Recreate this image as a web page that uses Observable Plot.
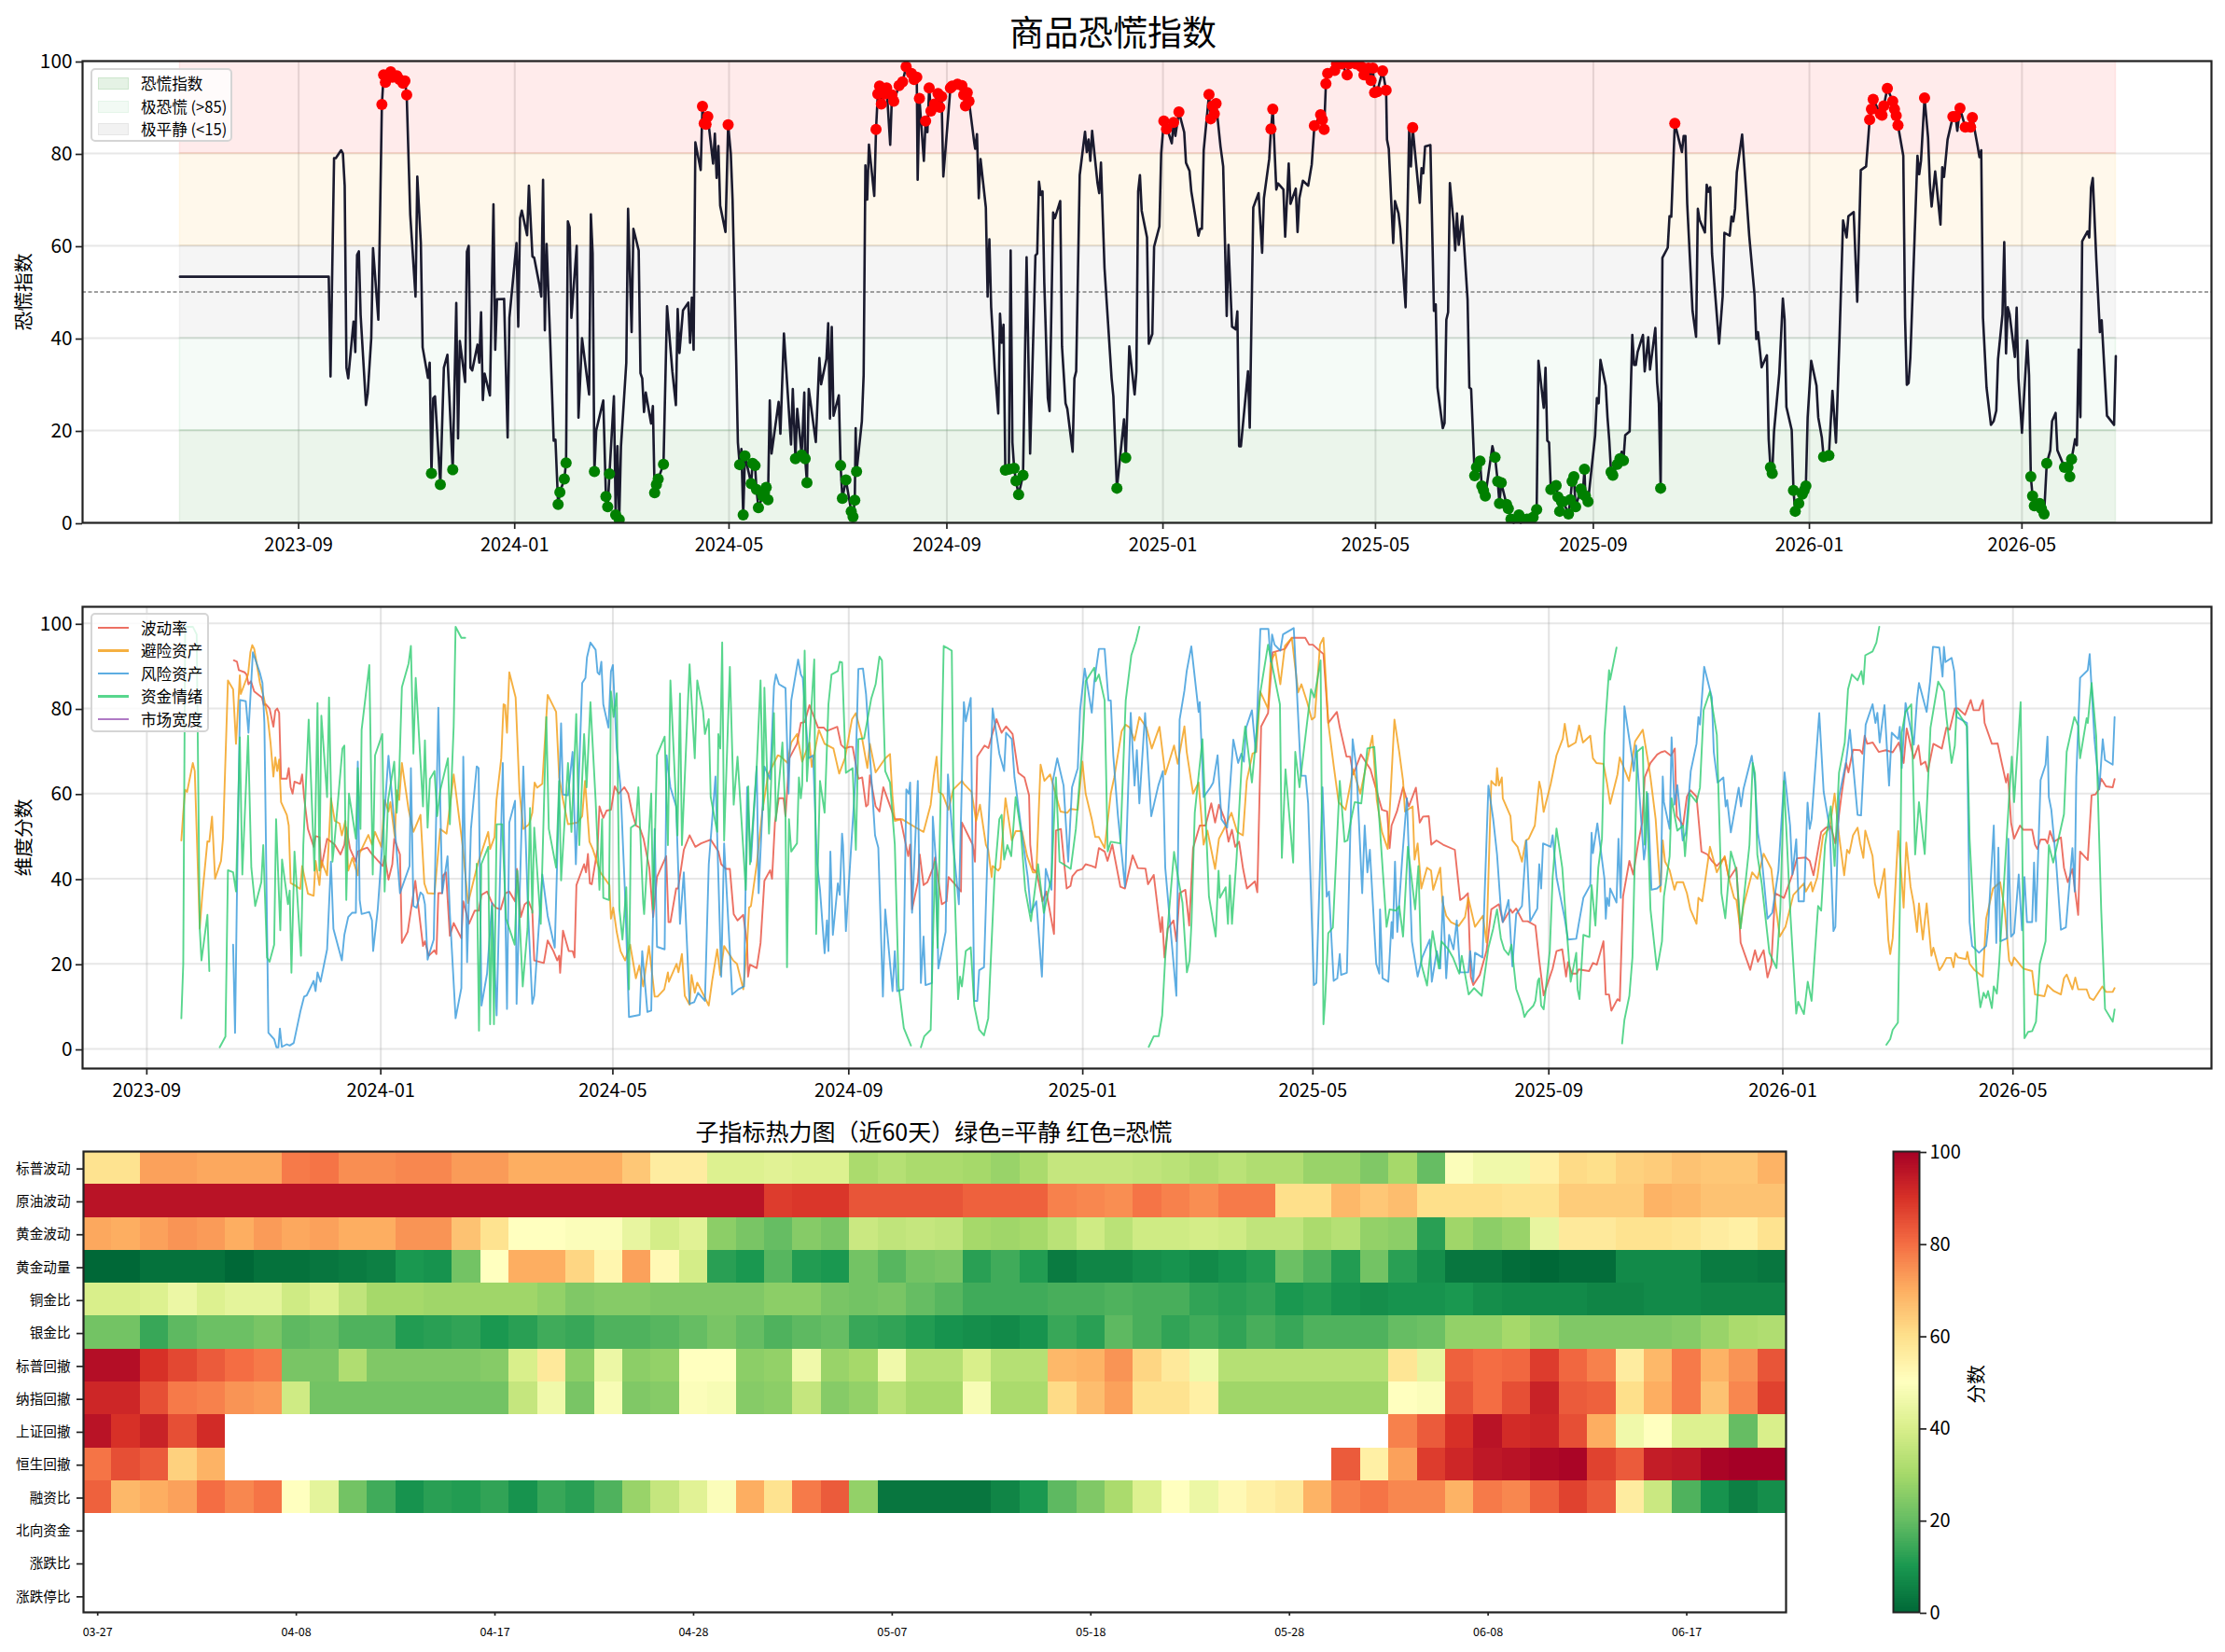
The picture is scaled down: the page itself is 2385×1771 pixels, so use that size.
<!DOCTYPE html>
<html><head><meta charset="utf-8">
<script src="https://cdn.jsdelivr.net/npm/d3@7"></script>
<script src="https://cdn.jsdelivr.net/npm/@observablehq/plot@0.6"></script>
<style>
html,body{margin:0;padding:0;background:#fff}
#page{position:relative;width:2385px;height:1771px;font-family:"Noto Sans CJK SC","Noto Sans",sans-serif;color:#000;overflow:hidden}
#page>div{position:absolute}
#page svg{display:block;background:transparent}
.ttl{white-space:nowrap;transform:translate(-50%,-50%);line-height:1}
.legend{background:rgba(255,255,255,.8);border:2px solid #d5d5d5;border-radius:5px;box-sizing:border-box;font-size:16.6px;line-height:1}
.legend .row{position:absolute;left:52px;transform:translateY(-50%);white-space:nowrap}
.legend .key{position:absolute;left:6px;width:33px;box-sizing:border-box}
.cbl{white-space:nowrap;font-size:20.8px;line-height:1;transform:translate(-50%,-50%) rotate(-90deg)}
</style></head><body><div id="page"></div>
<script>
// days are counted from originDate
const originDate = "2023-06-26";
const panicIndex = [[0,53.3],[84,53.3],[85,31.7],[87,79],[88,79],[91,80.7],[92,80],[93,73],[94,33.6],[95,31.3],[98,43.6],[99,37],[100,58],[101,58.8],[102,45],[105,25.5],[106,28],[108,40],[109,59.5],[112,44],[114,90.6],[115,97],[116,95.4],[119,97.7],[120,96.5],[122.5,96.8],[124,96],[126,95.2],[127,95.7],[128,92.7],[130,66.8],[133,49],[134,75],[136,60.6],[137,38],[140,31.4],[141,34.7],[142,10.7],[143,27],[144,27.4],[147,8.3],[149,33.6],[151,36.4],[154,11.5],[156,47.6],[157,18.3],[158,39.4],[161,30.5],[162,58.7],[163,60],[164,33.6],[165,33],[168,38.6],[169,34.7],[170,45.6],[171,26.6],[172,32.3],[175,27.6],[177,69],[178,37.5],[179,48.4],[183,48.5],[185,18.5],[186,44.4],[190,60.6],[191,42.5],[192,66],[193,67.6],[196,62.3],[197,73],[199,57.7],[200,57.4],[203,51.4],[204,49],[205,74.3],[206,41.7],[207,60.4],[209,39.8],[211,17.8],[212,18],[213.5,4],[214.5,6.6],[217,9.5],[218,13],[219,65.3],[220,64],[221,44.4],[224,60],[225,22.8],[227,40],[231,27.8],[232,66.8],[233,58.3],[234,11.1],[235,20],[239,26.5],[240.5,5.7],[241.5,3.5],[242.5,10.6],[245,27.4],[246,1.7],[247,16.6],[248,0.7],[249,16.6],[252,34.7],[253,68],[255,41.3],[256,63.7],[259,59],[260,32.4],[261,31.3],[262,24],[263,28.2],[266,21.5],[267,25.3],[268,6.5],[269,8.3],[270,9.5],[273,12.7],[275,46.9],[278,32.8],[280,25.5],[281,46.3],[282,36.8],[284,46],[287,47.7],[288,39],[289,48.8],[290,37.5],[291,82.4],[294,76.4],[295,90.2],[296,86.5],[297,86.3],[298,88],[301,77.8],[302,84.3],[303,74.7],[304,81.6],[305,68.7],[308,63],[309.5,86.2],[311,80],[312,70],[314,36],[315,17.4],[316,12.6],[317,16],[318,1.7],[319,14.5],[322.5,8.5],[323.3,12.9],[324.7,12.4],[325.5,7.2],[326.6,3.3],[329,5.8],[330,6.5],[331,7.7],[332,5],[333,26.5],[334,15],[338,26.2],[339,19.3],[341,41],[345,17],[346,29],[347.5,13.9],[348.5,24.7],[351,14.7],[352.5,28.2],[353,13.9],[354,8.7],[355,29],[359,17.5],[361,35.7],[362,30],[365,35.5],[366,43.2],[367,22.6],[368,42.4],[369,23.2],[372,27.6],[373,12.4],[374,5.3],[376,9.3],[379,2.5],[380,1.3],[381,4.9],[381.5,20.5],[382,11.1],[385,22],[386,32],[387,77.4],[388,70],[389,81.9],[392,70.8],[393,85.2],[394,92.9],[395,94.6],[396,90.7],[398,92.9],[399,94.2],[401,81.9],[402,92.7],[403,91.3],[406,94.7],[408,95.5],[410,98.8],[413,97.3],[414.5,96],[416,96.5],[416.5,74.3],[417.5,91.9],[420,78.4],[421,87],[422,84.6],[423,94.2],[424,89.2],[426,90.7],[428,93],[429,90],[430,92.3],[431,75],[435,94.2],[436,94.6],[439,95],[441.5,94.7],[442.5,92.7],[443.5,90.3],[444.5,93.2],[445.5,91.3],[448.5,82.2],[449,81],[450,84.2],[451,70.3],[452,78.8],[455,68.3],[456,49],[457,61.4],[458,46.7],[460,33.6],[462,23.7],[463,45.3],[464,39],[465,42.9],[466,11.4],[468,11.6],[469,59],[470,17.4],[471,11.8],[472,9.1],[473.5,6.1],[476,10.3],[478,57.5],[480,15],[483,57.9],[484,58.3],[485,73.9],[486,71],[487,71.8],[488,52],[490,27],[491,24.2],[493,67.2],[494,66],[497,69.7],[498,38.2],[500,25.9],[501,24.7],[504,15.4],[505,31.3],[506,32.8],[508,75.3],[511,84.7],[512,80.3],[513,83],[514,78.4],[515,84.9],[518,73.7],[519,71.4],[520,78],[522,55.2],[526,31.3],[527,27.4],[529,7.5],[533,22.4],[534,14.1],[536,38.2],[539,27.8],[540,32.8],[541,71.8],[542,75.3],[543,67.6],[546,61.8],[547,38.8],[549,40.9],[550,59.8],[553,64.2],[554,80],[555.5,87],[557,85.3],[558,84.6],[560,82.2],[561,86.7],[562,83.8],[564,89],[567,84.6],[568,78],[570,76.2],[571,71.8],[575,62.2],[576,63.7],[577,63.7],[578,80.7],[581,92.8],[582,87.5],[583,90.3],[584,88.6],[585,90.8],[587.5,81.5],[589,77.2],[591,44.8],[592,60.2],[594,42.5],[596,41.9],[597,45.8],[598,16.6],[599,16.6],[603,32.8],[604,20.6],[606,68.3],[609,71.4],[611,58.5],[612,70.3],[615,78.8],[616,85.3],[617,89.6],[619,72.2],[620,73.5],[623,72.2],[624,62],[626,77.8],[627,69.1],[630,72.4],[631,63],[632,70.3],[634,74.1],[637,73],[639,77.6],[640.5,86],[644,88.4],[645,87.3],[646,85.2],[647,95.1],[648,97.3],[652,98],[653,99.4],[656,99.4],[659,97],[660,99.4],[664,99.4],[667,98.8],[668.5,97],[671,98.5],[672.5,95.8],[673.5,98.5],[674.5,93.2],[676,93.4],[679,97.9],[681,93.7],[681.5,83],[682.5,81],[685,60.6],[686,69.7],[688,67],[689,63.7],[692,46.7],[694,84.9],[695,77.2],[696,85.6],[700,69.3],[701,76.8],[702,75.7],[703,81.5],[706,81.8],[708,45.9],[709,47.3],[710,29.3],[713,20.5],[714,21.6],[715,44],[716,45.6],[717,73.6],[719,65.3],[720,59],[721,67],[722,60.2],[724,66.4],[727,48.3],[728,29.3],[729,29],[731,10.2],[732,12],[734,13.4],[735,8],[736,7],[737,5.8],[741,16.6],[742.5,14.2],[744,9],[745,4.2],[746,8.7],[749,4],[750,3.1],[751.5,0.8],[753,0],[756,1.7],[757,0],[760.5,0.8],[764,1.2],[766,2.9],[767,35.1],[770,24.9],[771,33.6],[772,17.8],[773,17.4],[774,7.2],[777,8.1],[778,5.6],[779,2.5],[780,4.6],[781,4.6],[784,1.9],[785,5],[786,9],[787,10],[788,3.5],[791,7.3],[792,6.2],[793,11.6],[793.5,5.8],[795,4.6],[799,18.9],[800,27],[801,25.9],[802,35.3],[805,29.7],[806,22.8],[807,17.8],[808,11],[809,10.3],[811.5,12.7],[813,13.9],[814,15.4],[815,13.5],[816,19],[818.5,19.8],[820,40.7],[821,34.2],[822,34.2],[823,37],[826,40.7],[827,32.8],[829,40.2],[830,33.2],[833,42.2],[834,30.5],[835,25.9],[836,7.5],[837,57.4],[840,59.6],[841,66.4],[842,66.3],[844,86.5],[846,83.4],[848,80.3],[849,83.8],[850,83.8],[851,69.1],[854,45.9],[856,40.3],[857,68],[858,65.6],[861,62.9],[862,73.2],[863,71.7],[864,72.7],[865,58.3],[868,43.6],[869,38.8],[871,49],[872,62.8],[875,62.2],[876,66.3],[877,65.3],[878,68],[879,75.9],[882,84.1],[886,62.2],[889,49.4],[890,39.8],[891,41.3],[893,33.7],[896,36.3],[897,18.1],[898,12],[899,10.7],[900,19.7],[903,32.4],[905,48.6],[906,44],[907,25.1],[910,20.1],[911,7],[912,2.5],[914,4.2],[916,6.2],[917,7],[918,8],[919,22.8],[921,35.1],[924,29.7],[925,22.8],[927,18.5],[928,14.3],[931,14.6],[933,28.6],[935,17.4],[937,40.2],[939,65.5],[941,61.8],[942,66.4],[945,67.3],[947,47.9],[949,76.4],[952,77.2],[954,87.3],[955,89.6],[956,91.7],[960,88.6],[961,88.3],[962,90.3],[964,94.1],[967,91.3],[968,89.6],[969,88.2],[970,86.1],[973,79.5],[974,44.4],[975,29.9],[976,30.3],[977,35.9],[981,79.5],[982,75.5],[983,78.4],[985,92],[987,83.4],[988,73.4],[989,68.5],[991,76.1],[994,64.6],[995,77],[996,74.9],[998,83],[1001,88],[1002.5,88],[1003.5,84.9],[1005,89.8],[1008,85.7],[1011,85.7],[1012,87.8],[1015,81.5],[1016,79.2],[1017,80.7],[1018,44.4],[1020,29.3],[1022.5,21.2],[1024,22],[1025.5,24.3],[1026.5,35.5],[1029,45.2],[1030,60.8],[1031,36.7],[1032,46.7],[1033,45.2],[1036,35.9],[1037,46.6],[1038,31.3],[1040,19.5],[1043,39.5],[1044,32],[1045,10],[1046,5.8],[1047,3.7],[1050,4.2],[1051,3.1],[1052.5,1.9],[1054,12.9],[1056,15.7],[1057,22],[1059,23.8],[1060,15.7],[1064,12],[1066,12],[1067,10],[1068,13.8],[1070,18.1],[1071,16.8],[1072,37.5],[1073,22.9],[1074,61],[1077,63.1],[1078,61.8],[1079,72.6],[1080,74.7],[1082,56.8],[1084,41.3],[1085,43.9],[1088,23.2],[1092,21.2],[1093,36.1]];
const volatility = [[112.4,91.3],[114,91],[115,89],[118,88.5],[119,88],[120,85.7],[121.3,86.4],[123,84],[127,82.6],[128,80.8],[129,81],[131,80],[133,75.7],[134,79.5],[135,80],[136,79],[137,63.5],[140,63.5],[141,66],[142,61.5],[143,60],[144,62.8],[147,62.3],[148,64.5],[149,59.2],[151,51.7],[154,47.5],[155,50],[157,49.8],[158,42.6],[161,49.4],[163,48.7],[165,48],[168,45.7],[170,48],[171,52],[173,47],[176,44],[177,46.4],[180,47],[182,47.3],[184,46],[190,43],[191,45.3],[193,39.8],[195,43.4],[196,49.4],[199,45.7],[200,24.9],[203,27.5],[207,39.5],[211,24.2],[212,25.3],[214,21.9],[217,23.2],[218,22.3],[219,36.6],[221,36.6],[221.5,40.8],[223,41.5],[225,26.6],[227,29.6],[231,26],[232,34.7],[235,29.4],[238,32.5],[240,32.5],[241.5,36.2],[244.4,37],[247,34.3],[249,33.2],[251.5,32.8],[254,36.6],[256,37],[259,34.7],[260,42.3],[262,31],[264,34],[266,34.7],[268,32.5],[269,20.8],[274,20.2],[276,25.5],[279,23],[281,20.8],[282,21.9],[282.5,17.9],[284,27.8],[287,23],[289,23],[290,21.5],[291,38.5],[295,43.4],[296,41.5],[297,45.8],[298,38.9],[299,38.7],[302,47],[303,57],[305,54.3],[306.7,56],[309,56.2],[311,61.7],[313,60],[316,61.5],[318,60],[319.9,55.8],[322,52.5],[324,52],[326,49.4],[329,42.6],[331,31],[333,40.4],[337.8,45.3],[339,29.8],[340,29.8],[343,37.7],[344,37.7],[347,46.8],[350,50.2],[353,47.5],[356,48.3],[361,49.2],[365,46.4],[366.5,43.4],[369,42.3],[371,42.3],[373,31.7],[375,30.2],[378,31.5],[380,24.5],[380.5,17],[381.5,19.8],[385,19],[387,24.9],[389,39.5],[392,42],[393,40],[394.5,53.2],[396.5,58.9],[399,58.9],[400,54.7],[402,68.3],[406,71.7],[408,76.6],[410,76.8],[412.5,80.8],[417,75.5],[420,75.5],[421.6,74.7],[427,75.7],[429,71.5],[431,70.6],[433.5,71],[435,71],[438,63.5],[440,63.8],[442,57],[443,57.4],[444,64.3],[447,57],[449,55.8],[451,61.5],[457,54],[460,54],[464,45.3],[465,48],[466,32.8],[469,39.2],[470,45.7],[472,38.5],[474,39.2],[477,42.6],[478,45],[481.5,34],[484,34.7],[485,40.4],[488,38.9],[491.5,37],[492,53.2],[497.6,48],[498.8,44],[500,68.7],[503.8,71.3],[505.8,70.7],[510,77.5],[512.7,74.3],[515,75.8],[518.4,74],[521.4,64.9],[524.6,63.8],[527,59.6],[527.6,48],[529,42.3],[531,41.5],[534,34.7],[536,37],[540,27],[541,51.3],[543.6,51.7],[546.6,37.7],[548.6,38.3],[549.6,40.6],[552,41.9],[554.8,42.3],[556.5,43.4],[559.7,43],[561.7,42.6],[563.4,47.2],[566.4,46.4],[567.9,44.2],[570.4,48],[574.6,38.1],[577,37.7],[581,45.5],[583.7,42.5],[587.7,42.4],[589,38.7],[592,40.9],[595.6,27.5],[596.4,31],[597.6,21.5],[599.3,28.3],[602.3,30.2],[603.8,25.3],[605.5,36.6],[608.5,37.4],[610.5,29],[612.5,47.2],[616,52.5],[619,52.5],[622,57.7],[624,53.2],[626,57.4],[629,54],[631,48.7],[632.8,51.5],[634.5,47.5],[636.5,48.7],[638.6,42.3],[640.6,37.7],[644.8,39.4],[646,36.8],[648,75.8],[651.6,78.9],[654,93.2],[660.4,94],[664,96.6],[671,96.6],[673,95],[675,95],[677.4,94],[680.5,92.8],[683,76.6],[687.5,79.2],[689,75.6],[692.5,68.7],[694.4,68.7],[696,64.5],[700,69.2],[705,65.7],[711,56.2],[713.7,55.8],[715,47.2],[716,52.5],[718.8,55.8],[722,61.5],[725,57],[728.7,61.4],[730.7,53.2],[732.4,54.6],[735.4,54.7],[736.7,48],[739.4,49],[742.9,48],[749,46.8],[750.6,40],[751.8,35],[753.5,35.5],[755.8,36.6],[757.3,17],[758.6,15],[762,17.4],[765.5,23],[768,32.8],[769.3,33.2],[772,34],[774,29.8],[778,32.8],[779,32],[781,33],[784.4,30],[787,30],[791,29],[793,20.8],[795.3,12.6],[800,18.9],[802,23],[805,23.4],[807,17],[808,20.4],[810,17.7],[812.6,17.7],[813.6,18.7],[819,18.3],[821,20.2],[823,19.8],[826.5,25.3],[827.7,12.8],[829.4,12.8],[830.6,9],[833.8,11.7],[835,11.3],[836.7,35.8],[840,44.2],[842,41],[844.7,48.7],[846.7,53.2],[848,63.8],[851,67.2],[854.5,69.2],[856.4,69.7],[858.6,70],[861.7,68.9],[863.7,70.6],[864.7,54.7],[868,52.5],[870,59.3],[871.8,60.8],[875,59.3],[877.6,46.4],[880.7,45.7],[883,44.2],[885.6,43],[889.7,45],[892,40],[895.8,42.6],[898,25],[903,18.6],[905.5,23.2],[907,20.5],[910,23.2],[912,16.8],[914,19.8],[916,36.6],[920.6,35.5],[925,41],[927.4,44.8],[932,45],[934,44.2],[936,40.8],[940,51],[942.5,52],[945,52.3],[947.4,48.3],[950.6,59.7],[953,67.2],[954.2,65],[956.6,70.3],[960.3,70.2],[961.5,69.4],[962.7,73.6],[964,71.7],[966.9,72],[970,69.8],[973.7,70.2],[977.3,69.7],[980.5,72],[983,67.2],[984.6,75.3],[988.3,68.3],[990.7,71.3],[992,66.8],[994.3,67.5],[995.6,65.2],[998.5,71.7],[1002.9,70.6],[1005.3,75.5],[1007,75],[1009.7,80],[1011.4,80],[1015,78.5],[1018,82],[1019.4,79.6],[1022.3,79.6],[1024.3,82],[1025.2,76.6],[1029,71.7],[1032,71.8],[1034,67.5],[1036.4,62.6],[1037.4,64.6],[1039,53.2],[1040.6,49.4],[1043.7,52.5],[1045.4,51.5],[1050,51.5],[1051.5,48],[1052.7,47],[1054.4,49.2],[1056.9,49.2],[1058,48.3],[1059.3,51.2],[1061.3,48.7],[1065,49.7],[1066.6,42.6],[1068.6,39.2],[1071,42.3],[1074,31.5],[1075,46.4],[1079,44.4],[1081,59.6],[1083,59.8],[1084.6,60.9],[1086,63.5],[1088.5,61.7],[1092,61.5],[1093,63.4]];
const safeHaven = [[85,49],[86,55.5],[87,60.9],[88,60.4],[91,67.2],[92,65.3],[94.6,28.3],[96,36.6],[98.6,48.8],[99.6,48.7],[101,54.6],[102.6,40],[105.7,44.2],[106.7,49.4],[109.3,86.6],[112,84.5],[113.5,71.7],[115.5,87.8],[116,83.4],[119.8,88],[121,93.2],[122,94.9],[123,94],[126,86],[128,82.6],[130,78],[131.5,72],[133,64],[134,68.5],[135,65.3],[136,68],[137,58],[140,55],[141,52.5],[142,39],[144,38.5],[147,37.6],[148,43],[151,36.5],[154,36],[155,44.2],[157,38.5],[158,44.2],[161,40.8],[163,58.9],[165,53.6],[167.5,53],[168.7,50.2],[170.5,53.6],[172,41.9],[174.2,44.9],[177,40.8],[178,46],[182.5,50.3],[184.4,48],[186,51],[189.3,47.5],[191,58.5],[193,55.8],[194,58],[196.3,49.8],[197.3,60.8],[198.6,58.5],[200,67.2],[203.5,56.2],[206,51],[209.7,55],[211.7,38.9],[213.4,36.6],[217,36.5],[220,51.7],[223.3,50.6],[227,64.5],[231.6,48],[234.5,34.3],[239.5,43.4],[245,51],[246,47],[248.3,49.8],[249.3,58.5],[251.8,68.3],[253,81],[253.8,80.8],[254.8,74.3],[256,88.5],[259.3,82.6],[261.3,60.6],[263.3,51.7],[266.3,52.8],[268,55.5],[269.2,62.6],[270.5,61.4],[273.2,62.3],[276,83.2],[280.4,79.2],[282,63.8],[284,58.5],[286.6,52.8],[291.6,53.2],[294,54.7],[295.5,63],[297.8,48.7],[299.5,47],[301,44.9],[303.5,41.5],[308.2,38.5],[309,30.6],[310.2,33.2],[312,27.5],[314,23],[316.4,20.8],[319,24.5],[322,16.6],[323.8,19.6],[325.8,14.7],[328.8,24.2],[331.8,12.3],[333.3,12.3],[336.8,14],[338.7,18],[339.2,15.8],[343.2,20],[344.2,18],[346,22.3],[347.5,12.5],[350,10.4],[351,17.4],[352.7,13.2],[354,15.6],[357.5,12.5],[360,10.2],[361.7,15.8],[364.4,23.4],[366,17.4],[368,24.2],[372.7,20.8],[374.7,20],[378,14],[380,24.5],[381,33.2],[382,33.6],[385,43.4],[388,56.2],[391,64.5],[396,69],[397.6,68.7],[401,67.2],[403,72],[406,74],[408.7,67.5],[412.5,72],[413.7,66.3],[417.4,75],[420.4,71.7],[425,70.6],[428,64.7],[431,68.3],[434.7,77.5],[436.7,78.9],[439.7,73.6],[442.7,66],[444,71.7],[447,65],[452,68.3],[454.5,69.3],[455.8,59.2],[457,53.6],[460.7,54],[468,52],[472,51],[475.7,57.4],[477.3,64],[478.8,68.7],[480,60.4],[482,59.8],[485,56.2],[487.4,60.9],[492,63],[493,62.3],[497,60.4],[499.4,53.6],[501.4,57.4],[504.5,48],[505.7,46.8],[507.5,40.4],[508,43],[510.9,41.9],[512,42.6],[514.7,58.9],[518,49],[520.1,51.2],[523.3,51.2],[526,45.3],[529,41.5],[530.8,41.5],[533,66.8],[535,63],[538,64.5],[543.4,55.8],[546.9,55.5],[548.6,56.4],[552.4,56.2],[554.8,67.5],[556.5,60],[559.7,54],[561.5,49.8],[563.4,49.8],[566.4,47.2],[569.6,60],[571.4,63.8],[575.3,74.7],[577.3,76.2],[579.5,75.5],[582,72.5],[584.5,78],[588.2,75.5],[591,70.6],[595,75.7],[598,64.5],[602.6,71.3],[604.5,67],[608,75.8],[609.2,69.8],[612.5,60],[615.4,62.6],[618,48],[620,51.3],[624,42.3],[626,49.4],[629,52],[632.5,55.5],[635.5,51],[638.5,50.2],[640.5,63],[643.5,69.4],[645.5,69.8],[647.5,84],[651.6,80],[653,91],[655.5,93.2],[658,85.7],[660.4,94.7],[664,96.6],[667.3,83.8],[669,85.7],[672,81.5],[674.4,77.4],[676,78],[678.7,95],[680.5,96.6],[683,76.6],[686,66],[688.4,58],[692,56.2],[696,65.7],[699.7,60],[706,73.6],[708.3,58.5],[711,51],[714,47],[717.5,77.4],[720,69.8],[722,63],[723,55.8],[727,57],[728,44.5],[729.6,48.3],[731.5,37.7],[734.5,42.6],[736.6,41.9],[737.7,37.4],[741.4,42.6],[742.5,34.7],[744.5,31.3],[747,29.8],[751,28.9],[754.3,31],[756,35.5],[759.5,28.7],[763.6,31.3],[765.5,25],[768,63],[769.3,62.3],[770.5,61.9],[771,66],[772,61.9],[773.5,63.8],[774,58.9],[778,54.7],[779,49],[781.7,47.5],[784,44],[786,49],[787.5,49.4],[790.7,52.5],[793,62.8],[794,60.8],[795.3,55.7],[799,62.3],[802,69],[805.3,72.9],[806.3,76.4],[808.2,71],[812,72],[813.8,76],[815.8,72],[819.6,73.6],[821,68.3],[822.8,67.2],[826.5,67],[828.4,62.3],[830,57.6],[833.8,64.5],[835,68.5],[839.8,63],[843,72.3],[847,75],[850,66.9],[851,63.8],[853.7,54],[856.2,37],[857.4,49],[858.6,44],[861,42],[863.5,37.4],[864.7,39.2],[868,39.2],[870,36.6],[871.8,32.8],[875,29.4],[876,35.5],[878,34.7],[882,47.5],[885.6,41.5],[889.7,45.3],[891.7,40.4],[894.6,35.5],[895.8,35],[897.8,28.3],[899.5,33.6],[904,41.5],[906.8,40],[910,45.9],[914,42.3],[915.3,37],[918.4,26.4],[921.4,28.7],[925.5,36.2],[931,38.9],[932,37],[934.7,39.2],[935.5,37],[938,40.4],[941,50.2],[944.5,52],[947,60],[949.3,50.2],[952,40.8],[953.5,46.8],[954.7,46],[956.6,50.2],[959,52],[960.3,48.3],[962,44.9],[963,51.3],[966.8,45.3],[968,38.9],[970,35.5],[973,42.3],[975,25.7],[976,22.3],[977.3,26],[980.2,51.2],[983,33.2],[984.4,48.5],[986.6,38.1],[988.3,34],[990,27.5],[991,34.2],[993,25.7],[995,34.2],[997.5,21.9],[998.5,23.8],[1001.6,18.5],[1003.3,19.6],[1005.3,21.4],[1007.7,21.4],[1009,19.2],[1010,22.5],[1011.4,21.5],[1015.5,21.1],[1016.2,22.8],[1017.4,20],[1020,18.5],[1024.3,17],[1026,30.6],[1029.6,37.7],[1033.3,39.2],[1035.7,32.8],[1038,20.8],[1039.4,19.6],[1040.6,21.5],[1044,19.6],[1045.4,18.9],[1050,18.3],[1051.5,12.8],[1056.4,12.4],[1058,15],[1061.3,13.6],[1065,12.8],[1066.6,16.6],[1068,17.5],[1071,14],[1072.5,16.8],[1074,14],[1078.4,14],[1080,12],[1082,11.5],[1085,13.6],[1086.6,14.7],[1088.5,13.4],[1092,13.4],[1093,14.3]];
const riskAssets = [[112,24.5],[113,3.8],[114,36.6],[115.6,82],[118.6,81.7],[120,74.3],[122.3,93.2],[126,88.3],[127.3,86],[128.3,76.6],[130.4,3.8],[133.4,2.3],[134.6,0.4],[135.6,0.4],[136.4,4.8],[137.4,0.5],[140,1.1],[141.5,0.8],[143.6,1.4],[147,8.7],[149,12.3],[150.4,12.6],[154,16],[155,13.6],[156,18],[157.6,15.8],[161,23.4],[163,44],[164.3,28.2],[168.7,20.8],[170,26.8],[172,31],[174,32],[176,32],[177,67.5],[178,35],[179,31.7],[183,32.2],[184.4,30.2],[185,23],[187.4,32.8],[193,68.9],[197,48],[199,36.6],[204,43],[204.7,66],[206,33.6],[207.7,33.2],[209.7,36.8],[211,36.2],[212,34],[213.4,21],[214.7,23],[216.6,25.7],[219,80.2],[221,36.6],[223.8,45.3],[225,32],[228,7.2],[231,14.3],[232,68.7],[234,20.4],[236,51.7],[239,66.4],[240,66],[241.5,10.2],[244.4,17.7],[247,34.3],[249.4,7.9],[252.6,67.2],[254.8,9.4],[256,53.2],[259,58.3],[259.8,10.6],[263.3,66.4],[265.8,32],[268,10.6],[269,12.5],[273.2,41],[276,31.3],[279.7,23.8],[283,76.5],[284,59.8],[286.6,59.6],[289,69.8],[290.7,43.4],[294,86],[295.7,87.2],[296.5,92],[298.3,95.5],[301,93.8],[302,88.5],[303,88],[304,91],[305,81],[307.7,75.5],[309,88.7],[310,90.2],[312,70.6],[314,61.5],[316.4,35.8],[318.4,7.5],[324,8],[325.3,23],[328,8.7],[330,9],[331.8,51.7],[333,24],[337,23.4],[338,69],[340,61.5],[343,57],[345,29.4],[347,41.5],[350,10.6],[352.4,11],[354.4,13.2],[358,11.3],[360,43.4],[363.5,64],[366.5,17],[368,48.3],[372.2,12.8],[375.4,14],[378.4,14.7],[380,61.5],[382,44],[385,66.4],[386,36.6],[389,66.4],[392,63.4],[394,85.3],[395,88],[396.6,85.7],[400,84.8],[401.6,60],[403,81.9],[406.6,91.5],[408,88],[409,87.2],[412,68.3],[414.4,69],[416.4,44],[418,37.4],[420.4,22.5],[421.6,30.2],[422.4,23],[423.4,46.4],[424.7,26.8],[427.3,38.9],[428.3,36.2],[429.5,50.6],[430,48],[431.5,27.7],[436.4,63],[438,89.3],[440.4,89.4],[442,83.4],[446.7,50.2],[448.4,47.3],[450.8,12.3],[452,32.8],[455.8,13.6],[457,23],[458.2,13.6],[461.4,14],[463,61],[464.3,60],[465,62.6],[466,32],[469,63],[470.6,15.5],[472,26.4],[473,15],[476.3,15.5],[476.8,54.6],[478.5,43.8],[479.7,18.9],[483.5,27.5],[484.7,64.5],[487.3,48.7],[490.4,34],[493,81.5],[494,77],[496.6,82.5],[498.4,11.3],[500,11.3],[501,18.5],[503.5,19.2],[505,41],[508,80],[511.5,69.4],[514,65.3],[515,74.3],[518,72.8],[519.4,63.8],[520,61.9],[523.6,49.4],[526.3,40.4],[528,32],[530.8,34.7],[533.7,17],[535.7,42.3],[538.7,37.4],[539.4,63],[541.7,68.3],[545,61.9],[547.4,44],[549.4,61.5],[552.4,66],[553.6,79.6],[556,89.4],[559.7,79],[561,86.4],[563.4,94],[566.4,94],[568.4,81.9],[569.6,81.9],[570.9,69],[573.3,55],[577,38.1],[580,79],[582,61.9],[583.2,70.2],[584.5,57.7],[587.5,78.9],[590.7,54.7],[594.4,61.9],[596.8,65.3],[598,42.6],[603.8,12.5],[605.5,77.4],[608,84.2],[609.2,88.8],[611.6,94.6],[615.4,79.2],[616,81.5],[618,59.2],[621.6,61.5],[623,62.6],[625.3,69],[627.3,54],[630.3,52],[633.5,72.7],[636,67.2],[637.7,69.4],[639,67.5],[640.2,75.5],[643.2,79.6],[645.2,69.8],[647.6,98.7],[651.8,98.7],[653,91],[653.7,97.4],[655,95],[658,93.6],[659.4,97.4],[665,98.9],[666.4,86.4],[668.8,64.2],[671.2,64.2],[672.5,57.7],[675.5,15],[676.8,15.5],[680,61.5],[682.2,35.8],[683.4,37],[685.8,16],[687.7,16.6],[689,22.3],[689.7,17.4],[692.7,17.9],[695.7,72.8],[697.7,66],[700.7,36.6],[702,52.5],[703.4,41.5],[704.7,46.8],[708,20],[709.6,17.7],[710,32.8],[711.3,16.6],[714.3,15.8],[716,29.8],[716.6,26],[717.8,44],[719,27.5],[721.7,45.7],[724,58.9],[726.6,25.3],[729.6,17],[732,21.5],[735.9,25.7],[737,15.8],[739.6,23],[741.4,18.9],[742.8,35.8],[744.5,16.6],[746,26.8],[748.3,23.4],[750,30.2],[751.8,18],[756,18],[757,23],[758.6,15.8],[759.5,22.6],[763.4,21.5],[766.5,61.9],[769,54],[771,45.7],[773,32.8],[774,29.8],[777,35],[779,19.4],[781,31.7],[784,33.6],[786.3,49],[788.3,30],[792,33],[793,43.4],[794,37.7],[795,48.3],[799,47.5],[800,50.2],[802,40.4],[806.3,30.6],[808,25.7],[812.3,25.9],[813.6,29.4],[816,35.5],[819.6,38.5],[820.3,50.8],[821,46],[823.3,53],[827,40],[827.7,30.6],[828.4,35.5],[829.4,33.6],[830,37.7],[833.3,34.4],[834.3,49.4],[835.5,35.5],[837.4,80.5],[841.6,67.9],[842.3,65.3],[843.5,71.3],[847.6,44.5],[848.4,47.2],[849.6,60],[851.5,37.4],[854.4,37.7],[856.4,38.5],[857.4,64],[858,58],[861,51.7],[862,73.2],[863.5,57.4],[865,62],[867.8,49],[869.5,50.9],[872,65.3],[875,71.7],[876,78],[876.8,76.2],[879,89.8],[883,82.6],[884,69.8],[886,62.6],[889,63.8],[890.2,57],[891,58.5],[892.9,50.9],[897,61.4],[898.2,57],[899.5,61.1],[903.8,68.9],[905.5,62.9],[907,50.9],[909,44.9],[912,30.6],[914.5,32],[917.7,41.9],[920.9,65],[923.8,52.5],[925,41],[927,49.3],[928.2,34.7],[931,34.7],[932.9,57.9],[934,51.7],[935,54],[939,78.9],[941.3,60.4],[944.5,51.7],[946.4,27.7],[947.4,28.7],[949.3,59.2],[953,67.5],[955,75],[959,55],[960.8,54.9],[963.2,76.2],[966.8,81],[968.3,76.6],[969.3,79],[970.5,72],[973,80.8],[975.4,61.9],[976.8,74.3],[980.2,72.8],[981,75.7],[982,66],[984,81.3],[988.3,71.5],[990,82.2],[991,86],[995,79.2],[996.8,86.4],[998.3,94.5],[1001.6,94.3],[1003.3,87.5],[1004,94.5],[1004.8,90.9],[1008,91.9],[1009.4,88.7],[1010.6,78],[1016,76.6],[1017.4,29.8],[1018.7,24.2],[1022.3,22.6],[1026,24.2],[1027,28.3],[1030,52.5],[1031.3,24.9],[1032.4,47.3],[1033.4,25.3],[1036.9,26],[1037.6,49.4],[1039,26.4],[1040.6,27.2],[1043,41],[1044.7,27.9],[1046,40.4],[1047.3,29.8],[1050,29.8],[1051,43.8],[1052,30],[1054.4,63.2],[1057,66.8],[1058,73.4],[1058.7,59.2],[1060,56.2],[1062.5,44],[1065,28],[1067.6,28.6],[1071,47.2],[1072.2,37],[1073,63.8],[1075,87.2],[1079,89],[1080,92.8],[1082.5,72.8],[1085,61],[1086.8,72.8],[1088,67.9],[1092,66.8],[1093,78]];
const fundSentiment = [[85,7.2],[86,20],[87,99.2],[91,99.2],[93,97.4],[94.6,28.3],[95.5,20.8],[98.6,31.5],[99.6,18.3],[100,null],[105,0.4],[108,2.9],[109.3,42],[112,41.5],[113.5,37],[115.5,73.2],[116.8,41],[119.8,73.6],[121.5,42.6],[123.5,33.6],[126.7,39.2],[127.7,47.9],[129.7,21.5],[131,20.5],[133.4,24.5],[134.4,54],[136.6,27.9],[137.5,44.5],[140.6,34],[141.5,37.2],[142.4,17.9],[144,46.4],[147.4,21.9],[148.6,47.9],[151.4,77.4],[154.4,41.9],[156,81.3],[157,41.9],[158,78.3],[161,59.2],[162,82.6],[163.8,44],[165,49.4],[169,70.6],[170,71.3],[171,35],[172.4,60],[176,49.4],[177,66],[178.4,51.7],[179,75],[183,90.2],[184.8,41],[186,69],[189.8,74],[191,37],[192.8,58.5],[196,67.5],[197.3,55.5],[198.6,64.5],[200,85],[203.5,90.6],[204.7,94.7],[206,69.4],[207.2,87.2],[211,57],[212,72.5],[213.4,52],[214.6,63.4],[217,65.3],[218.4,54.7],[220,60.8],[224,68.3],[225,52.8],[227,75.8],[228,99.2],[231,96.6],[233,96.6],[234,null],[239,43.5],[240.2,4.3],[241.4,43.4],[245,47.5],[246,5.8],[247,33.6],[248,5.8],[249.4,52.8],[252.3,52.8],[254.3,30.6],[258.8,24.5],[260.2,41.9],[263,14.7],[265.5,28.3],[266.8,56.6],[268,32],[269,52],[272.4,29.4],[275.3,78],[276.6,51.7],[280.4,42.6],[282,63],[283,39.6],[286.6,67.2],[288.4,51],[290.9,78.7],[292.5,47.9],[295,74],[296.3,61.5],[298.3,81.5],[301,58.5],[303,37.4],[304.4,54],[305,35.5],[308,35],[309,84],[310.4,78],[312,83.6],[313.4,32.8],[315,25.7],[317,38],[318.4,14],[319.4,52],[322,52.8],[323.3,61.5],[325.8,34.3],[326.3,31.7],[330,60],[331,32.8],[333,69],[337,73.4],[338.7,47.9],[340,86.6],[343.7,50.2],[345,83.5],[346,47.9],[350,90.4],[352.7,68.3],[354,86.6],[357,79.5],[358,74],[360,77.5],[361,59.2],[364.4,51],[365,74],[366,70.6],[367,95.5],[368,49],[371,89.8],[373,57.4],[375,68.7],[379.3,37.4],[380.6,61.7],[381.5,43.4],[385,66.4],[387,86.6],[388.4,56.2],[389,84.9],[391.4,50.6],[394,78.9],[395,53.6],[398.4,72],[400,54.7],[400.8,19.2],[401.8,54],[403,46.4],[406,48.3],[407,63.8],[408,58.9],[408.7,62],[410,93.6],[411.2,62.9],[415,91.5],[416,27],[418,63],[420.4,55.5],[422.4,81],[424,88],[427.3,88.8],[428.3,91],[429.5,90.8],[431.5,64.9],[435,66],[436.7,46.8],[438,72.8],[441,73],[444.7,82.3],[447,85.7],[449,92.2],[450.3,91.3],[452,65.3],[454.5,62.6],[457,48],[459,14.7],[461.7,4.9],[465.4,0.8],[466,null],[470.6,0.4],[472.4,3],[475.7,4.5],[478,44],[479.3,23.8],[482.5,94.7],[486.7,93.6],[488,40.4],[490,11.7],[491,17],[492,14.7],[494,23],[496.6,23.9],[498.4,10.2],[501,4.5],[503.5,3.2],[505.7,7.2],[509,40.4],[511.5,54],[512.7,55],[514,44.5],[515.7,47.9],[517.7,45.3],[520,59.2],[522.6,51.7],[525,37.4],[528,30],[531.7,43.4],[534.7,32],[538.7,40.4],[541,63.8],[542.9,44],[548.7,42.3],[551.4,51.7],[555,72.5],[556.5,86.4],[561,89.6],[561.7,86.4],[563.4,88],[566.4,81.9],[568,46.4],[569.6,48.7],[574.6,48.3],[577.4,81.9],[580.3,92.5],[582.7,95.8],[584.5,99.2],[585,null],[589.4,0.5],[592,3],[594.6,3],[596.4,7.9],[598,21.5],[602.6,46.3],[604.4,41],[607,34.3],[609.3,18],[610.7,20.8],[611.7,29.8],[613.4,55.5],[617.4,72.8],[620.8,35.8],[624.3,26.4],[625.8,41.9],[626.5,35.5],[629.5,38],[630.7,29.4],[631.7,40.8],[632.8,29.4],[635.2,44.9],[638.2,69.8],[639.7,75.8],[643.2,62.6],[647.6,83.8],[651.6,95],[657.8,81],[658.8,44.9],[660.7,65.7],[664.7,43.8],[665.8,69.8],[668,61.5],[674,84.5],[675.7,82.6],[679,91.3],[680.5,5.8],[681.4,11.7],[683,27.2],[685.4,28.5],[689,63],[691.5,48.7],[693,49],[694.8,53.6],[696.8,58],[700.2,57.7],[703.4,70.6],[707,71],[709.6,54],[713.4,28.7],[715,32.8],[718.4,32.5],[720,33.6],[722,26.4],[724.5,47.5],[728.3,32.8],[730,43],[731.5,20],[734.5,14.9],[737.4,27.7],[740.7,18.9],[742,25.3],[745.6,23.4],[748,21.5],[751.3,17.7],[752.6,21.9],[756.2,12.8],[759,14.3],[763,12.5],[766.5,23.8],[769,28.3],[771,32.8],[773,26],[774.7,23.4],[777,22.1],[778.5,24.5],[781,14.1],[784,10.2],[785.3,7.5],[786.8,8.7],[790,10.2],[791,11.3],[792.3,16],[793,16.6],[794,10.2],[795.3,9.3],[798.5,23],[800,40.4],[802,51.8],[805,42.6],[807,29.8],[809.4,15.8],[812.3,22.6],[813,14],[814,11.7],[816,26.8],[819.2,26.3],[820.3,38.5],[822.3,29],[823.8,42.6],[825.7,49.4],[827,73.6],[829.4,89],[830,86.8],[833.3,94.3],[834,null],[836.2,1.3],[837.4,6.8],[840,12.5],[841.6,21.5],[843,47.9],[844,69.8],[847,71],[848,48],[849,60.4],[851,32.8],[854.4,18.6],[857,25.3],[858,35.8],[861,45.3],[862,58.9],[865,51.3],[868,52.5],[869,45.3],[871.5,60],[875,58],[876.8,61.4],[878.7,79.6],[882,84],[885.6,73.8],[888,36.6],[890,30.7],[892.9,46.4],[895.8,41.9],[898,28.3],[902.6,47.9],[904.3,67.2],[905.5,64.7],[906.7,45.7],[909,38.9],[913,22.6],[916.7,19],[918.7,32.8],[920.6,63],[924,31.3],[927,8.3],[928,11.1],[931,8.2],[933,15.8],[935,11.3],[938.4,33.6],[940,32.5],[942,47.9],[945,57],[947,43],[949.3,64.9],[952.3,72],[954,84.5],[956,88],[959,86.6],[961,88.8],[962,85.7],[963,92.5],[966.8,93.4],[968.8,95.5],[970.3,99.2],[971,null],[974,1],[976,2.3],[977.3,4.5],[980,6.2],[981,32.8],[982,74.3],[984,79.2],[987,81],[989,45.7],[991,58],[994,45.8],[997,75.5],[1001,86.3],[1004,84],[1005.3,78],[1008,67.2],[1009.7,71.3],[1010.6,79.6],[1016,75.8],[1017.4,49.4],[1021,18],[1023,9.8],[1024.7,13.2],[1026,12],[1027,13.6],[1029,9.6],[1030,14.7],[1031.6,13],[1032.8,20],[1038,59.2],[1039.4,68.7],[1040.6,58],[1044,81.5],[1045.4,25.3],[1046,2.5],[1047.9,4],[1050,4.2],[1052,6.4],[1054,20],[1057,25.3],[1058.7,47.9],[1061,43.8],[1066.6,55.2],[1068,69.8],[1072,78],[1074,76],[1075,68.3],[1078.4,77.7],[1079,76.6],[1081,86],[1083.4,73.6],[1086,32.8],[1088,9.4],[1092,6.4],[1093,9.3]];

const bandLow = [0,20,40,60,80];
const bandHigh = [20,40,60,80,100];
const bandColors = ["#008000","#00a030","#808080","#ffa500","#ff0000"];
const bandOpacity = [0.08,0.04,0.08,0.08,0.08];
const panicLegend = [["恐慌指数","#008000",0.1],["极恐慌 (>85)","#00a030",0.05],["极平静 (<15)","#808080",0.1]];
const panicHigh = 85, panicLow = 15;
const monthTicksA = ["2023-09-01","2024-01-01","2024-05-01","2024-09-01","2025-01-01","2025-05-01","2025-09-01","2026-01-01","2026-05-01"];
const seriesNames = ["波动率","避险资产","风险资产","资金情绪","市场宽度"];
const seriesColors = ["#e74c3c","#f39c12","#3498db","#2ecc71","#9b59b6"];

const heatRows = ["标普波动","原油波动","黄金波动","黄金动量","铜金比","银金比","标普回撤","纳指回撤","上证回撤","恒生回撤","融资比","北向资金","涨跌比","涨跌停比"];
const heatTickCols = [0,7,14,21,28,35,42,49,56];
const heatTickLabels = ["03-27","04-08","04-17","04-28","05-07","05-18","05-28","06-08","06-17"];
const sp500Vol = [59,59,72,72,71,71,71,78,79,75,75,76,76,73,73,70,70,70,70,65,56,56,41,41,42,41,41,31,33,31,31,30,28,31,36,36,36,35,34,32,34,32,32,28,28,24,30,20,49,46,46,55,61,60,63,64,66,65,65,69];
const crudeVol = [96,96,96,96,96,96,96,96,96,96,96,96,96,96,96,96,96,96,96,96,96,96,96,96,88,89,89,84,84,84,84,82,82,82,77,76,75,79,77,75,78,78,60,60,68,65,67,60,60,60,59,59,64,64,64,69,68,66,66,66];
const goldVol = [71,70,72,74,73,70,73,71,72,70,70,74,74,66,59,50,50,49,49,44,39,42,26,23,20,25,23,37,35,36,35,30,29,30,34,38,34,38,38,39,38,35,35,31,33,27,26,12,29,26,28,44,57,57,59,59,58,56,55,59];
const goldMomentum = [0,0,2,2,2,0,2,2,3,4,5,10,9,22,50,70,70,62,53,72,52,39,12,10,18,11,10,22,18,22,23,12,15,11,4,6,6,8,9,7,9,11,21,17,11,22,12,8,3,3,1,0,1,1,7,7,7,4,4,3];
const copperGold = [40,40,41,45,41,43,43,38,41,35,30,30,29,29,29,29,27,24,25,25,24,24,24,24,26,26,23,22,23,20,18,15,15,15,16,16,17,16,16,13,12,13,10,11,9,8,9,9,10,8,7,7,7,6,6,7,7,6,6,6];
const silverGold = [22,22,14,19,21,21,23,19,20,17,17,11,12,13,10,12,15,14,17,17,18,20,23,20,17,19,20,14,13,11,9,8,7,9,14,12,19,16,13,15,13,16,14,17,17,17,20,21,27,27,30,27,24,24,24,24,25,28,31,32];
const sp500DD = [97,97,90,86,83,80,78,23,23,32,24,24,24,24,25,40,57,26,45,26,27,50,50,26,27,46,28,30,46,33,33,40,33,33,68,69,74,62,57,46,33,33,33,33,33,33,58,44,82,80,81,88,81,77,56,68,78,69,74,84];
const nasdaqDD = [92,92,85,78,77,74,73,38,22,22,22,22,22,22,22,36,46,23,48,24,25,49,48,25,26,36,25,27,34,30,30,48,31,31,61,67,72,59,59,55,29,29,29,29,29,29,50,49,84,80,85,93,83,82,60,70,78,66,76,87];
const shanghaiDD = [96,90,93,85,91,...Array(41).fill(null),77,83,90,96,91,92,85,70,46,50,41,41,20,40];
const hangSengDD = [79,85,83,63,69,...Array(39).fill(null),83,55,72,88,92,95,96,98,99,87,83,94,95,99,100,100];
const marginRatio = [82,68,70,72,80,76,79,50,43,22,15,9,12,11,13,9,14,12,17,28,36,42,49,70,59,78,83,27,3,3,3,3,6,10,19,24,31,41,50,45,52,55,57,69,77,79,76,76,69,78,76,82,87,83,56,37,17,9,5,8];
const northbound = Array(60).fill(null), advDecl = Array(60).fill(null), limitRatio = Array(60).fill(null);
const heatValues = [sp500Vol,crudeVol,goldVol,goldMomentum,copperGold,silverGold,sp500DD,nasdaqDD,shanghaiDD,hangSengDD,marginRatio,northbound,advDecl,limitRatio];

const colorStops = [0,10,20,30,40,50,60,70,80,90,100];
const colorRange = ["#006837","#1a9850","#66bd63","#a6d96a","#d9ef8b","#ffffbf","#fee08b","#fdae61","#f46d43","#d73027","#a50026"];
const scoreScale = {type:"linear",domain:colorStops,range:colorRange,interpolate:"rgb"};
const colorbarLevels = d3.range(0,100,0.5);

const FONT = '"Noto Sans CJK SC","Noto Sans",sans-serif';
const INK = "#222";
const page = document.getElementById("page");
const t0 = +new Date(originDate+"T00:00:00Z");
const toDate = d => new Date(t0 + d*86400000);
const ticksA = monthTicksA.map(s=>new Date(s+"T00:00:00Z"));
const rows = a => a.map(([d,v])=>({date:toDate(d),v}));
const timeFmt = d3.utcFormat("%Y-%m");
function place(el,left,top){const w=document.createElement("div");w.style.left=left+"px";w.style.top=top+"px";w.append(el);page.append(w);return w;}
function addText(cls,text,left,top,size){const w=document.createElement("div");w.className=cls;w.textContent=text;w.style.left=left+"px";w.style.top=top+"px";if(size)w.style.fontSize=size+"px";page.append(w);return w;}

// ---------- panel 1
const panicRows = rows(panicIndex);
const first = panicRows[0].date, last = panicRows[panicRows.length-1].date;
const bands = bandLow.map((l,i)=>({l,h:bandHigh[i],c:bandColors[i],o:bandOpacity[i]}));
const p1 = Plot.plot({
  width:2385,height:550,marginLeft:88,marginRight:15,marginTop:15,marginBottom:40,
  style:{fontFamily:FONT,fontSize:"20px",color:"#000",background:"transparent",overflow:"visible"},
  x:{type:"utc",domain:[new Date("2023-05-02T00:00:00Z"),new Date("2026-08-16T00:00:00Z")]},
  y:{domain:[0,100]},
  marks:[
    Plot.gridX(ticksA,{x:d=>d,stroke:"#b0b0b0",strokeOpacity:0.35,strokeWidth:2}),
    Plot.gridY([0,20,40,60,80,100],{stroke:"#b0b0b0",strokeOpacity:0.3,strokeWidth:2}),
    Plot.rect(bands,{x1:()=>first,x2:()=>last,y1:"l",y2:"h",fill:"c",fillOpacity:"o",stroke:"c",strokeOpacity:0.07,strokeWidth:1.6}),
    Plot.ruleY([50],{stroke:"#808080",strokeWidth:1.5,strokeDasharray:"4,2.5"}),
    Plot.line(panicRows,{x:"date",y:"v",stroke:"#1a1a2e",strokeWidth:2.6,curve:"linear"}),
    Plot.dot(panicRows.filter(d=>d.v>panicHigh),{x:"date",y:"v",r:6,fill:"#ff0000",clip:true}),
    Plot.dot(panicRows.filter(d=>d.v<panicLow),{x:"date",y:"v",r:6,fill:"#008000",clip:true}),
    Plot.axisX({ticks:ticksA,tickFormat:timeFmt,tickSize:7,tickPadding:9,stroke:INK,strokeWidth:1.7,label:null}),
    Plot.axisY({ticks:[0,20,40,60,80,100],tickSize:7,tickPadding:4,dy:1,stroke:INK,strokeWidth:1.7,label:"恐慌指数",labelAnchor:"center",labelOffset:70,labelArrow:"none",fontSize:20.8}),
    Plot.frame({stroke:INK,strokeWidth:2.2})
  ]
});
place(p1,0,50);
addText("ttl","商品恐慌指数",1193,33,37);

// ---------- panel 2
const seriesData = [volatility,safeHaven,riskAssets,fundSentiment];
const p2 = Plot.plot({
  width:2385,height:560,marginLeft:88,marginRight:15,marginTop:20,marginBottom:45,
  style:{fontFamily:FONT,fontSize:"20px",color:"#000",background:"transparent",overflow:"visible"},
  x:{type:"utc",domain:[new Date("2023-07-29T12:00:00Z"),new Date("2026-08-12T12:00:00Z")]},
  y:{domain:[-4.6,103.9]},
  marks:[
    Plot.gridX(ticksA,{x:d=>d,stroke:"#b0b0b0",strokeOpacity:0.35,strokeWidth:2}),
    Plot.gridY([0,20,40,60,80,100],{stroke:"#b0b0b0",strokeOpacity:0.3,strokeWidth:2}),
    ...seriesData.map((s,i)=>Plot.line(rows(s),{x:"date",y:"v",stroke:seriesColors[i],strokeOpacity:0.8,strokeWidth:1.9,curve:"linear",defined:d=>d.v!=null})),
    Plot.axisX({ticks:ticksA,tickFormat:timeFmt,tickSize:7,tickPadding:9,stroke:INK,strokeWidth:1.7,label:null}),
    Plot.axisY({ticks:[0,20,40,60,80,100],tickSize:7,tickPadding:4,dy:1,stroke:INK,strokeWidth:1.7,label:"维度分数",labelAnchor:"center",labelOffset:70,labelArrow:"none",fontSize:20.8}),
    Plot.frame({stroke:INK,strokeWidth:2.2})
  ]
});
place(p2,0,630);

// ---------- panel 3
const cells = heatRows.flatMap((r,i)=>heatValues[i].map((v,col)=>({r,col,v}))).filter(d=>d.v!=null);
const p3 = Plot.plot({
  width:2385,height:581,marginLeft:89,marginRight:471,marginTop:44,marginBottom:43,
  style:{fontFamily:FONT,fontSize:"14.6px",color:"#000",background:"transparent",overflow:"visible"},
  x:{type:"band",domain:d3.range(60),padding:0,round:false},
  y:{type:"band",domain:heatRows,padding:0,round:false},
  color:scoreScale,
  marks:[
    Plot.cell(cells,{x:"col",y:"r",fill:"v",inset:0,shapeRendering:"crispEdges"}),
    Plot.axisX({ticks:heatTickCols,tickFormat:c=>heatTickLabels[heatTickCols.indexOf(c)],tickSize:4,tickPadding:13,fontSize:12.5,stroke:INK,strokeWidth:1.7,label:null}),
    Plot.axisY({tickSize:7,tickPadding:7,dy:1,fontSize:14.6,stroke:INK,strokeWidth:1.7,label:null}),
    Plot.frame({stroke:INK,strokeWidth:2.2})
  ]
});
place(p3,0,1190);
addText("ttl","子指标热力图（近60天）绿色=平静 红色=恐慌",1001,1212,25);

// colorbar
const cb = Plot.plot({
  width:150,height:581,marginLeft:0,marginRight:122,marginTop:44,marginBottom:43,
  style:{fontFamily:FONT,fontSize:"20px",color:"#000",background:"transparent",overflow:"visible"},
  x:{domain:[0,1],axis:null},
  y:{domain:[0,100]},
  color:scoreScale,
  marks:[
    Plot.rect(colorbarLevels,{x1:()=>0,x2:()=>1,y1:d=>d,y2:d=>d+0.5,fill:d=>d+0.25,inset:-0.3,shapeRendering:"crispEdges"}),
    Plot.axisY({anchor:"right",ticks:[0,20,40,60,80,100],tickSize:7,tickPadding:4,dy:1,stroke:INK,strokeWidth:1.7,label:null}),
    Plot.frame({stroke:INK,strokeWidth:2})
  ]
});
place(cb,2029,1190);
addText("cbl","分数",2117,1484);

// ---------- legends
function legendBox(left,top,w,h){const b=document.createElement("div");b.className="legend";b.style.cssText+=`left:${left}px;top:${top}px;width:${w}px;height:${h}px`;page.append(b);return b;}
const lg1 = legendBox(97,73,152,79);
panicLegend.forEach(([name,c,o],i)=>{
  const cy=[14,39,63][i];
  const k=document.createElement("div");k.className="key";
  k.style.cssText+=`top:${cy-6}px;height:13px;background:${d3.color(c).copy({opacity:o})};border:1px solid ${d3.color(c).copy({opacity:o})}`;
  const t=document.createElement("div");t.className="row";t.style.top=cy+"px";t.textContent=name;
  lg1.append(k,t);
});
const lg2 = legendBox(97,657,127,128);
seriesNames.forEach((name,i)=>{
  const cy=13.7+i*24.5;
  const k=document.createElement("div");k.className="key";
  k.style.cssText+=`top:${cy-1}px;height:2.4px;background:${seriesColors[i]};opacity:.8`;
  const t=document.createElement("div");t.className="row";t.style.top=cy+"px";t.textContent=name;
  lg2.append(k,t);
});
</script></body></html>
